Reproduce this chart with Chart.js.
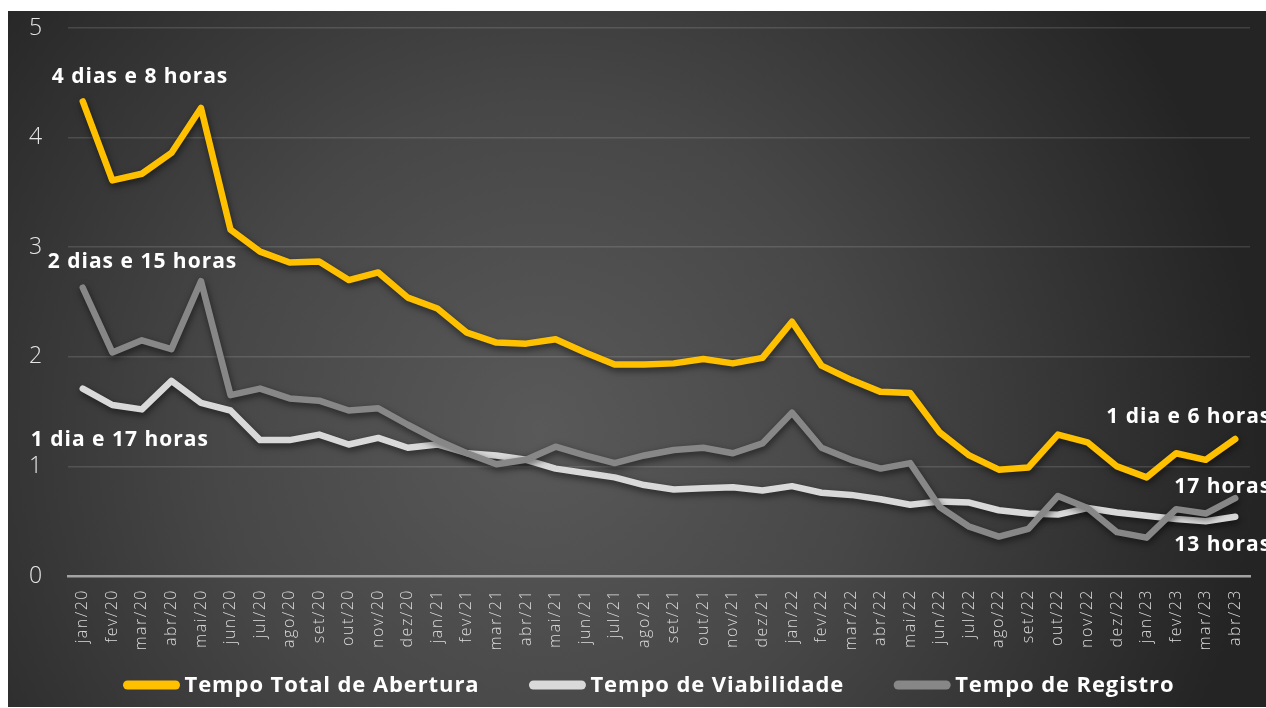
<!DOCTYPE html>
<html><head><meta charset="utf-8">
<script src="https://cdn.jsdelivr.net/npm/chart.js@4.4.1/dist/chart.umd.min.js"></script>
<style>html,body{margin:0;padding:0;background:#fff;overflow:hidden}#wrap{position:absolute;left:0;top:0;width:1266px;height:708px}</style>
</head><body><div id="wrap"><canvas id="c" width="1266" height="708"></canvas></div>
<script>
const categories = ['jan/20','fev/20','mar/20','abr/20','mai/20','jun/20','jul/20','ago/20','set/20','out/20','nov/20','dez/20',
  'jan/21','fev/21','mar/21','abr/21','mai/21','jun/21','jul/21','ago/21','set/21','out/21','nov/21','dez/21',
  'jan/22','fev/22','mar/22','abr/22','mai/22','jun/22','jul/22','ago/22','set/22','out/22','nov/22','dez/22',
  'jan/23','fev/23','mar/23','abr/23'];
const tempoTotal = [4.33,3.61,3.67,3.86,4.27,3.16,2.96,2.86,2.87,2.70,2.77,2.54,
  2.44,2.22,2.13,2.12,2.16,2.04,1.93,1.93,1.94,1.98,1.94,1.99,
  2.32,1.92,1.79,1.68,1.67,1.31,1.10,0.97,0.99,1.29,1.22,1.00,
  0.90,1.12,1.06,1.25];
const tempoViabilidade = [1.71,1.56,1.52,1.78,1.58,1.51,1.24,1.24,1.29,1.20,1.26,1.17,
  1.20,1.12,1.10,1.06,0.98,0.94,0.90,0.83,0.79,0.80,0.81,0.78,
  0.82,0.76,0.74,0.70,0.65,0.68,0.67,0.60,0.57,0.56,0.62,0.58,
  0.55,0.52,0.50,0.54];
const tempoRegistro = [2.63,2.04,2.15,2.07,2.69,1.65,1.71,1.62,1.60,1.51,1.53,1.38,
  1.24,1.12,1.02,1.06,1.18,1.10,1.03,1.10,1.15,1.17,1.12,1.21,
  1.49,1.17,1.06,0.98,1.03,0.63,0.45,0.36,0.43,0.73,0.62,0.40,
  0.35,0.61,0.57,0.71];
const yTickValues = [0,1,2,3,4,5];
const seriesNames = ['Tempo Total de Abertura','Tempo de Viabilidade','Tempo de Registro'];
const seriesColors = ['#FFC000','#D9D9D9','#878787'];
const annotationTexts = [
  {series:0, index:0, text:'4 dias e 8 horas', dx:-31, dy:-24},
  {series:2, index:0, text:'2 dias e 15 horas', dx:-35, dy:-26},
  {series:1, index:0, text:'1 dia e 17 horas', dx:-52, dy:51},
  {series:0, index:39, text:'1 dia e 6 horas', dx:-129, dy:-22},
  {series:2, index:39, text:'17 horas', dx:-61, dy:-11},
  {series:1, index:39, text:'13 horas', dx:-61, dy:28}
];

const bgPlugin = {
  id:'bg',
  beforeDraw(chart){
    const ctx = chart.ctx;
    ctx.save();
    ctx.fillStyle = '#ffffff';
    ctx.fillRect(0,0,chart.width,chart.height);
    const g = ctx.createRadialGradient(540,430,0,540,430,720);
    g.addColorStop(0,'#595959');
    g.addColorStop(0.45,'#474747');
    g.addColorStop(1,'#242424');
    ctx.fillStyle = g;
    ctx.fillRect(8,11,chart.width-8,chart.height-12);
    ctx.restore();
    ctx.letterSpacing = '1.5px';
  }
};
const shadowPlugin = {
  id:'shadow',
  beforeDatasetDraw(chart){
    const ctx = chart.ctx;
    ctx.save();
    ctx.shadowColor = 'rgba(0,0,0,0.55)';
    ctx.shadowBlur = 7;
    ctx.shadowOffsetX = 1;
    ctx.shadowOffsetY = 3;
  },
  afterDatasetDraw(chart){ chart.ctx.restore(); }
};
const textPlugin = {
  id:'texts',
  afterDraw(chart){
    const ctx = chart.ctx;
    ctx.save();
    ctx.letterSpacing = '1px';
    ctx.fillStyle = '#ffffff';
    ctx.font = 'bold 21px "Open Sans"';
    ctx.textBaseline = 'middle';
    ctx.textAlign = 'left';
    const dsIndexOf = i => chart.data.datasets.findIndex(d => d.label === seriesNames[i]);
    annotationTexts.forEach(a => {
      const p = chart.getDatasetMeta(dsIndexOf(a.series)).data[a.index];
      ctx.fillText(a.text, p.x + a.dx, p.y + a.dy);
    });
    // legend
    ctx.letterSpacing = '0.9px';
    ctx.font = 'bold 22px "Open Sans"';
    const sw = 56, gapT = 5, gapI = 50;
    const widths = seriesNames.map(n => sw + gapT + ctx.measureText(n).width);
    const total = widths.reduce((a,b)=>a+b,0) + gapI*(widths.length-1);
    let x = 649 - total/2;
    const y = 686;
    seriesNames.forEach((n,i) => {
      ctx.strokeStyle = seriesColors[i];
      ctx.lineWidth = 9;
      ctx.lineCap = 'round';
      ctx.beginPath();
      ctx.moveTo(x+4, y-1); ctx.lineTo(x+sw-4, y-1); ctx.stroke();
      ctx.fillText(n, x + sw + gapT, y);
      x += widths[i] + gapI;
    });
    ctx.restore();
  }
};

const mk = (i, data, order) => ({
  label: seriesNames[i], data, borderColor: seriesColors[i], backgroundColor: seriesColors[i],
  borderWidth: 6.5, pointRadius: 0, tension: 0, borderJoinStyle:'round', borderCapStyle:'round', order
});

new Chart(document.getElementById('c'), {
  type:'line',
  data:{ labels: categories, datasets:[ mk(0,tempoTotal,0), mk(1,tempoViabilidade,2), mk(2,tempoRegistro,1) ] },
  options:{
    responsive:false, animation:false, devicePixelRatio:1,
    layout:{ padding:{ left:29, right:16, top:28, bottom:43 } },
    plugins:{ legend:{display:false}, tooltip:{enabled:false} },
    scales:{
      x:{
        offset:true,
        grid:{ display:false },
        border:{ display:true, color:'#a3a3a3', width:2.5 },
        ticks:{ color:'#dcdcdc', font:{ family:'"Open Sans"', size:16, weight:'300' }, minRotation:90, maxRotation:90, padding:5, autoSkip:false },
        afterFit(s){ s.height = 89; }
      },
      y:{
        min:0, max:5,
        afterBuildTicks(s){ s.ticks = yTickValues.map(v => ({value:v})); },
        grid:{ color:'rgba(255,255,255,0.13)', lineWidth:1.5, drawTicks:false },
        border:{ display:false },
        ticks:{ color:'#e6e6e6', font:{ family:'"Open Sans"', size:23, weight:'300' }, padding:8, crossAlign:'far' },
        afterFit(s){ s.width = 39; }
      }
    }
  },
  plugins:[bgPlugin, shadowPlugin, textPlugin]
});
</script></body></html>
